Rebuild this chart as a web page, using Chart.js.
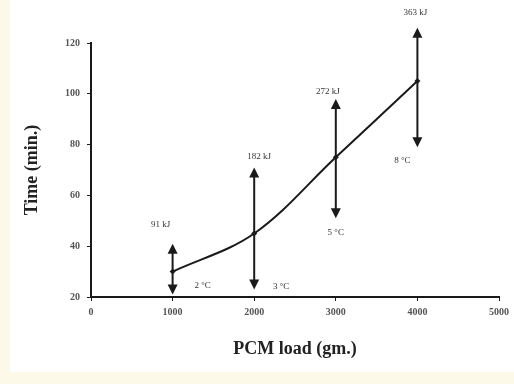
<!DOCTYPE html>
<html>
<head>
<meta charset="utf-8">
<script src="https://cdn.jsdelivr.net/npm/chart.js@4/dist/chart.umd.min.js"></script>
<style>
  html, body { margin: 0; padding: 0; background: #fdf9e9; }
  #wrap { position: relative; width: 514px; height: 384px; }
  #paper { position: absolute; left: 10px; top: 0; width: 504px; height: 372px; background: #fff; }
  #chart { position: absolute; left: 0; top: 0; }
</style>
</head>
<body>
<div id="wrap">
  <div id="paper"></div>
  <canvas id="chart" width="514" height="384"></canvas>
</div>
<script>
// --- DATA ---
const loads = [1000, 2000, 3000, 4000];          // PCM load (gm.)
const times = [30, 45, 75, 105];                  // Time (min.)
const arrowLow = [21, 23, 51, 79];                // lower arrow tip (min.)
const arrowHigh = [41, 71, 98, 126];              // upper arrow tip (min.)
const energyLabels = ['91 kJ', '182 kJ', '272 kJ', '363 kJ'];
const tempLabels = ['2 °C', '3 °C', '5 °C', '8 °C'];
const xTicks = [0, 1000, 2000, 3000, 4000, 5000];
const yTicks = [20, 40, 60, 80, 100, 120];

// label offsets in pixels from the arrow tips (style only)
const energyOffset = [[-12, -19], [5, -11], [-8, -7], [-2, -15]];
const tempOffset = [[30, -9], [27, -3], [0, 14], [-15, 14]];

const SERIF = '"Liberation Serif", "Times New Roman", serif';

// --- ARROWS + LABELS ---
const arrowPlugin = {
    id: 'arrows',
    afterDatasetsDraw(chart) {
        const { ctx, scales: { x, y } } = chart;
        ctx.save();
        ctx.strokeStyle = '#1a1a1a';
        ctx.lineWidth = 2;
        loads.forEach((load, i) => {
            const px = x.getPixelForValue(load);
            const yTop = y.getPixelForValue(arrowHigh[i]);
            const yBot = y.getPixelForValue(arrowLow[i]);
            ctx.fillStyle = '#1a1a1a';
            ctx.beginPath();
            ctx.moveTo(px, yTop + 8);
            ctx.lineTo(px, yBot - 8);
            ctx.stroke();
            drawHead(ctx, px, yTop, -1);
            drawHead(ctx, px, yBot, 1);

            ctx.font = '9px ' + SERIF;
            ctx.textAlign = 'center';
            ctx.textBaseline = 'middle';
            ctx.fillStyle = '#333';
            ctx.fillText(energyLabels[i], px + energyOffset[i][0], yTop + energyOffset[i][1]);
            ctx.fillText(tempLabels[i], px + tempOffset[i][0], yBot + tempOffset[i][1]);
        });
        ctx.restore();
    }
};

function drawHead(ctx, px, tipY, dir) {
    // dir -1 : pointing up, 1 : pointing down
    ctx.beginPath();
    ctx.moveTo(px, tipY);
    ctx.lineTo(px - 5, tipY - dir * 10);
    ctx.lineTo(px + 5, tipY - dir * 10);
    ctx.closePath();
    ctx.fill();
}

// --- CHART ---
const ctx = document.getElementById('chart').getContext('2d');
new Chart(ctx, {
    type: 'scatter',
    data: {
        datasets: [{
            data: loads.map((l, i) => ({ x: l, y: times[i] })),
            showLine: true,
            borderColor: '#1a1a1a',
            borderWidth: 2,
            tension: 0.35,
            pointStyle: 'rectRot',
            pointRadius: 3,
            pointBackgroundColor: '#1a1a1a',
            pointBorderWidth: 0
        }]
    },
    options: {
        responsive: false,
        animation: false,
        layout: { padding: { top: 43, right: 12, left: 0, bottom: 0 } },
        plugins: { legend: { display: false }, tooltip: { enabled: false } },
        scales: {
            x: {
                type: 'linear',
                min: 0, max: 5000,
                afterBuildTicks: s => { s.ticks = xTicks.map(v => ({ value: v })); },
                afterFit: s => { s.height = 87; },
                border: { color: '#1a1a1a', width: 2 },
                grid: { drawOnChartArea: false, color: '#1a1a1a', tickLength: 4, lineWidth: 1 },
                ticks: { color: '#555', padding: 5, maxRotation: 0, callback: v => String(v),
                         font: { family: SERIF, size: 10, weight: 'bold' } },
                title: { display: true, text: 'PCM load (gm.)', color: '#222', padding: { top: 14, bottom: 24 },
                         font: { family: SERIF, size: 18, weight: 'bold' } }
            },
            y: {
                min: 20, max: 120,
                afterBuildTicks: s => { s.ticks = yTicks.map(v => ({ value: v })); },
                afterFit: s => { s.width = 91; },
                border: { color: '#1a1a1a', width: 2 },
                grid: { drawOnChartArea: false, color: '#1a1a1a', tickLength: 4, lineWidth: 1 },
                ticks: { color: '#555', padding: 7, callback: v => String(v),
                         font: { family: SERIF, size: 10, weight: 'bold' } },
                title: { display: true, text: 'Time (min.)', color: '#222', padding: { top: 22 },
                         font: { family: SERIF, size: 18, weight: 'bold' } }
            }
        }
    },
    plugins: [arrowPlugin]
});
</script>
</body>
</html>
